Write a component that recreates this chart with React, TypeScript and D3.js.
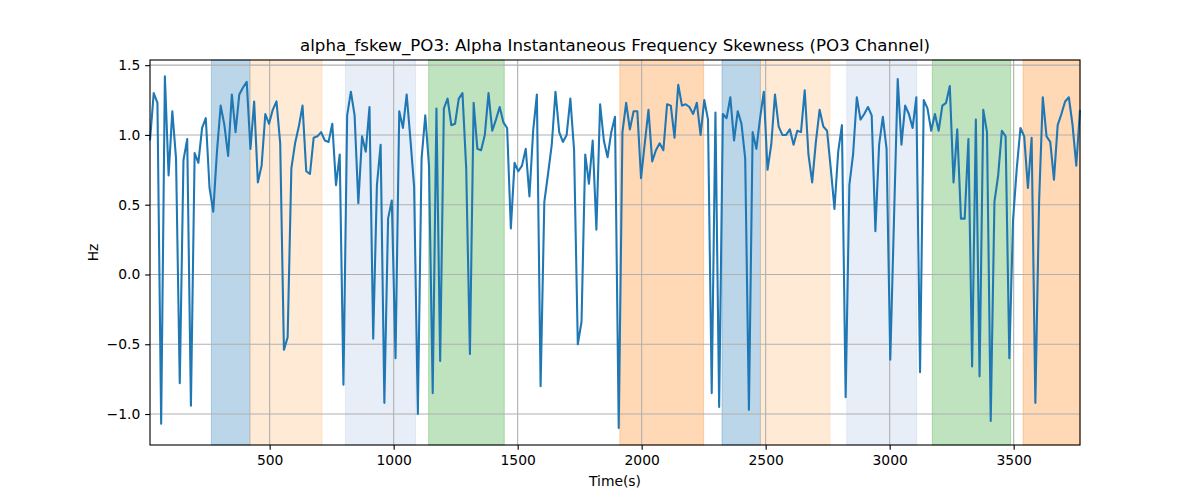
import React, { useEffect, useRef } from 'react';
import * as d3 from 'd3';

// sample grid of the recording (seconds)
const startTime = 17.5;
const timeStep = 15;

const fskewValues: number[] = [
  0.96, 1.3, 1.23, -1.07, 1.42, 0.71, 1.17, 0.83, -0.78, 0.82,
  0.97, -0.94, 0.87, 0.8, 1.05, 1.12, 0.62, 0.45, 0.88, 1.21,
  1.07, 0.85, 1.29, 1.02, 1.29, 1.34, 1.38, 0.9, 1.24, 0.66,
  0.78, 1.15, 1.08, 1.18, 1.24, 0.94, -0.54, -0.45, 0.76, 0.94,
  1.06, 1.21, 0.74, 0.72, 0.98, 0.99, 1.02, 0.96, 0.95, 1.08,
  0.64, 0.86, -0.79, 1.14, 1.31, 1.14, 0.51, 0.99, 0.88, 1.2,
  -0.46, 0.64, 0.93, -0.92, 0.4, 0.53, -0.6, 1.17, 1.05, 1.29,
  0.97, 0.63, -1.0, 0.83, 1.14, 0.78, -0.85, 1.19, -0.62, 1.19,
  1.26, 1.07, 1.08, 1.26, 1.3, 0.76, -0.57, 1.23, 0.9, 0.89,
  1.0, 1.3, 1.03, 1.11, 1.2, 1.09, 1.05, 0.33, 0.8, 0.74,
  0.78, 0.9, 0.56, 1.03, 1.29, -0.8, 0.52, 0.72, 0.93, 1.31,
  1.02, 0.95, 1.0, 1.26, 0.89, -0.5, -0.34, 0.86, 0.65, 0.96,
  0.32, 1.22, 0.96, 0.84, 1.02, 1.13, -1.1, 1.02, 1.23, 1.04,
  1.17, 1.17, 0.69, 0.94, 1.18, 0.81, 0.89, 0.94, 0.89, 1.22,
  1.21, 0.98, 1.36, 1.21, 1.22, 1.2, 1.15, 1.23, 1.0, 1.25,
  1.11, -0.85, 1.16, -0.95, 1.15, 1.12, 1.27, 0.96, 1.17, 1.08,
  0.83, -0.97, 1.02, 0.9, 1.12, 1.31, 0.75, 0.93, 1.29, 1.06,
  1.0, 1.0, 1.04, 0.93, 1.03, 1.02, 1.32, 0.86, 0.66, 0.95,
  1.18, 1.06, 1.03, 0.76, 0.47, 0.88, 1.07, -0.88, 0.64, 0.86,
  1.27, 1.11, 1.15, 1.2, 1.14, 0.31, 0.93, 1.13, 0.9, -0.61,
  0.4, 1.4, 0.93, 1.21, 1.15, 1.05, 1.27, -0.7, 1.25, 1.19,
  1.03, 1.15, 1.03, 1.21, 1.23, 1.35, 0.66, 1.04, 0.4, 0.4,
  0.97, -0.66, 1.11, -0.73, 1.18, 1.02, -1.05, 0.52, 0.71, 1.03,
  0.99, -0.6, 0.39, 0.76, 1.05, 0.99, 0.62, 0.98, -0.92, 0.52,
  1.27, 0.99, 0.95, 0.68, 1.07, 1.15, 1.24, 1.27, 1.07, 0.78,
  1.18,
];

// highlighted stages
const spanStarts = [265, 421, 806, 1141, 1912, 2324, 2479, 2827, 3172, 3538];
const spanEnds = [421, 711, 1088, 1446, 2250, 2479, 2759, 3109, 3488, 3767.5];
const spanColors = [
  '#1f77b4', '#ffbb78', '#aec7e8', '#2ca02c', '#ff7f0e',
  '#1f77b4', '#ffbb78', '#aec7e8', '#2ca02c', '#ff7f0e',
];

const xTicks = [500, 1000, 1500, 2000, 2500, 3000, 3500];
const yTicks = [-1.0, -0.5, 0.0, 0.5, 1.0, 1.5];

const pt = 100 / 72; // matplotlib points -> px at 100 dpi

const FskewChart: React.FC = () => {
  const ref = useRef<SVGSVGElement>(null);

  useEffect(() => {
    document.body.style.margin = '0';
    const width = 1200;
    const height = 500;
    const marginLeft = 150;
    const marginRight = 120;
    const marginTop = 60;
    const marginBottom = 55;
    const font = 'DejaVu Sans, sans-serif';

    const times = fskewValues.map((_v, i) => startTime + i * timeStep);

    const x = d3
      .scaleLinear()
      .domain([times[0], times[times.length - 1]])
      .range([marginLeft, width - marginRight]);

    const y = d3
      .scaleLinear()
      .domain([-1.222, 1.537])
      .range([height - marginBottom, marginTop]);

    const svg = d3
      .select(ref.current)
      .attr('width', width)
      .attr('height', height)
      .attr('viewBox', `0 0 ${width} ${height}`)
      .style('display', 'block');

    svg.append('rect').attr('width', width).attr('height', height).attr('fill', '#fff');

    // stage spans
    spanStarts.forEach((s, i) => {
      const x0 = x(Math.max(s, times[0]));
      const x1 = x(Math.min(spanEnds[i], times[times.length - 1]));
      svg
        .append('rect')
        .attr('x', x0)
        .attr('y', marginTop)
        .attr('width', x1 - x0)
        .attr('height', height - marginBottom - marginTop)
        .attr('fill', spanColors[i])
        .attr('fill-opacity', 0.3)
        .attr('stroke', spanColors[i])
        .attr('stroke-opacity', 0.3)
        .attr('stroke-width', 1);
    });

    // grid
    const grid = svg.append('g').attr('stroke', '#b0b0b0').attr('stroke-width', 0.8 * pt);
    xTicks.forEach((t) => {
      grid
        .append('line')
        .attr('x1', x(t))
        .attr('x2', x(t))
        .attr('y1', marginTop)
        .attr('y2', height - marginBottom);
    });
    yTicks.forEach((t) => {
      grid
        .append('line')
        .attr('x1', marginLeft)
        .attr('x2', width - marginRight)
        .attr('y1', y(t))
        .attr('y2', y(t));
    });

    // series
    const line = d3
      .line<number>()
      .x((_d, i) => x(times[i]))
      .y((d) => y(d));

    svg
      .append('path')
      .datum(fskewValues)
      .attr('d', line)
      .attr('fill', 'none')
      .attr('stroke', '#1f77b4')
      .attr('stroke-width', 1.5 * pt)
      .attr('stroke-linejoin', 'round')
      .attr('stroke-linecap', 'butt');

    // axes
    const tickLen = 3.5 * pt;
    const xAxis = svg
      .append('g')
      .attr('transform', `translate(0,${height - marginBottom})`)
      .call(d3.axisBottom(x).tickValues(xTicks).tickFormat(d3.format('d')).tickSize(tickLen).tickPadding(tickLen))
      .call((g) => g.select('.domain').remove());
    xAxis.selectAll('text').attr('font-family', font).attr('font-size', 10 * pt).attr('fill', '#000');
    xAxis.selectAll('line').attr('stroke-width', 0.8 * pt);

    const yAxis = svg
      .append('g')
      .attr('transform', `translate(${marginLeft},0)`)
      .call(d3.axisLeft(y).tickValues(yTicks).tickFormat(d3.format('.1f')).tickSize(tickLen).tickPadding(tickLen))
      .call((g) => g.select('.domain').remove());
    yAxis.selectAll('text').attr('font-family', font).attr('font-size', 10 * pt).attr('fill', '#000');
    yAxis.selectAll('line').attr('stroke-width', 0.8 * pt);

    // frame
    svg
      .append('rect')
      .attr('x', marginLeft)
      .attr('y', marginTop)
      .attr('width', width - marginLeft - marginRight)
      .attr('height', height - marginTop - marginBottom)
      .attr('fill', 'none')
      .attr('stroke', '#000')
      .attr('stroke-width', 0.8 * pt);

    // labels
    svg
      .append('text')
      .attr('x', (marginLeft + width - marginRight) / 2)
      .attr('y', marginTop - 6 * pt - 0.5)
      .attr('text-anchor', 'middle')
      .attr('font-family', font)
      .attr('font-size', 12 * pt)
      .text('alpha_fskew_PO3: Alpha Instantaneous Frequency Skewness (PO3 Channel)');

    svg
      .append('text')
      .attr('x', (marginLeft + width - marginRight) / 2)
      .attr('y', 486)
      .attr('text-anchor', 'middle')
      .attr('font-family', font)
      .attr('font-size', 10 * pt)
      .text('Time(s)');

    svg
      .append('text')
      .attr('transform', `translate(98,${(marginTop + height - marginBottom) / 2}) rotate(-90)`)
      .attr('text-anchor', 'middle')
      .attr('font-family', font)
      .attr('font-size', 10 * pt)
      .text('Hz');

    return () => {
      svg.selectAll('*').remove();
    };
  }, []);

  return <svg ref={ref}></svg>;
};

export default function App() {
  return <FskewChart />;
}
